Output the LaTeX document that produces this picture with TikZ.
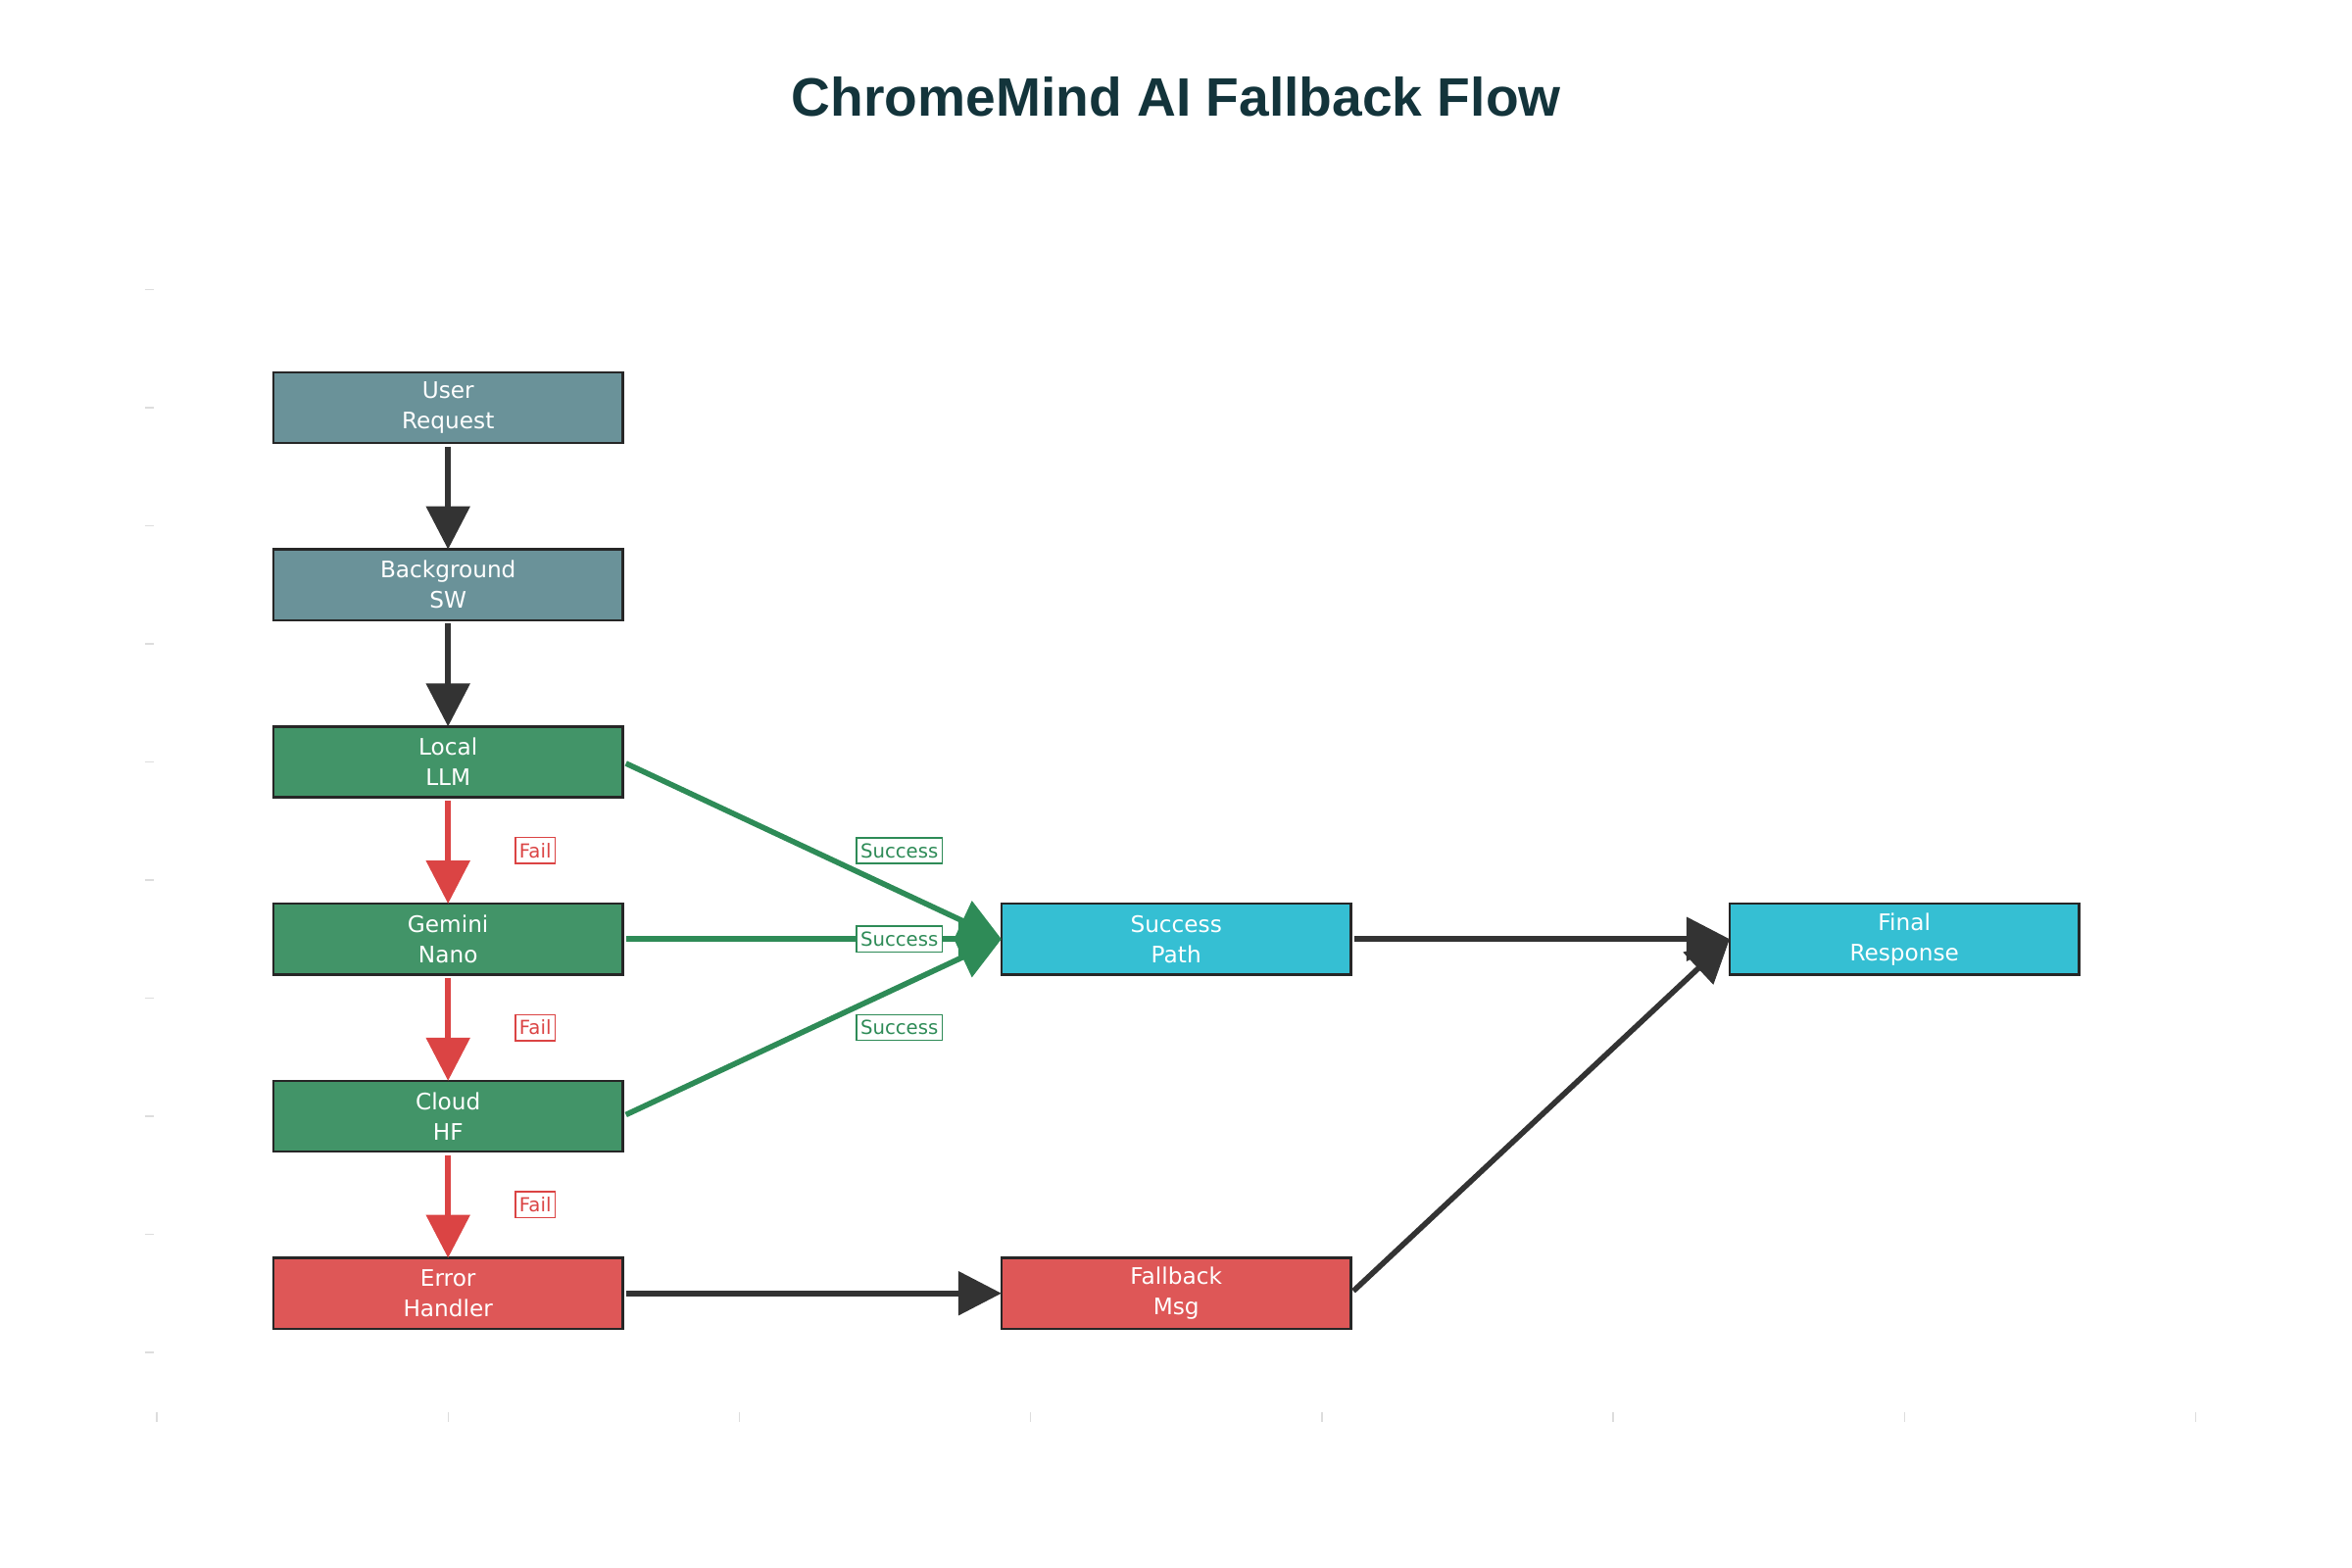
\documentclass[tikz,border=0pt]{standalone}
\usepackage{fontspec}
\setmainfont{DejaVu Sans}
\newfontfamily\titlefont{Liberation Sans}
\usetikzlibrary{arrows.meta}

\definecolor{slate}{RGB}{106,146,153}
\definecolor{leaf}{RGB}{66,148,104}
\definecolor{coral}{RGB}{222,87,87}
\definecolor{sky}{RGB}{53,191,211}
\definecolor{ink}{RGB}{19,52,59}
\definecolor{okline}{RGB}{46,139,87}
\definecolor{failline}{RGB}{219,68,68}
\definecolor{darkline}{RGB}{51,51,51}
\definecolor{tickgray}{RGB}{221,221,221}

\begin{document}
\begin{tikzpicture}[x=2.972cm, y=1.205cm,
    box/.style={draw=black!85, line width=0.7pt, minimum width=3.566cm, minimum height=0.723cm,
        inner sep=0pt, outer sep=0pt, text=white, align=center, font=\fontsize{6.6}{8.8}\selectfont},
    flow/.style={line width=1.6pt, -{Triangle[length=12.5pt,width=12.5pt]}, shorten <=1pt},
    tag/.style={fill=white, line width=0.45pt, inner xsep=1.2pt, inner ysep=1.6pt,
        font=\fontsize{5.6}{6}\selectfont, xshift=0.89cm}]
    \useasboundingbox (-0.5384,-1.8257) rectangle (7.5370,11.4523);

    % title
    \node[anchor=base, text=ink, font=\titlefont\bfseries\fontsize{15.7}{19}\selectfont] (title) at (3.5,10.47) {ChromeMind AI Fallback Flow};

    % faint axis ticks
    \foreach \i in {0,...,7}
        \draw[tickgray, line width=0.4pt] (\i,-0.51) -- (\i,-0.59);
    \foreach \j in {0,...,9}
        \draw[tickgray, line width=0.4pt] (-0.042,\j) -- (-0.011,\j);

    % boxes
    \node[box, fill=slate] (user) at (1,8) {User\\Request};
    \node[box, fill=slate] (bg) at (1,6.5) {Background\\SW};
    \node[box, fill=leaf] (local) at (1,5) {Local\\LLM};
    \node[box, fill=leaf] (gemini) at (1,3.5) {Gemini\\Nano};
    \node[box, fill=leaf] (cloud) at (1,2) {Cloud\\HF};
    \node[box, fill=coral] (error) at (1,0.5) {Error\\Handler};
    \node[box, fill=sky] (success) at (3.5,3.5) {Success\\Path};
    \node[box, fill=coral] (fallback) at (3.5,0.5) {Fallback\\Msg};
    \node[box, fill=sky] (final) at (6,3.5) {Final\\Response};

    % main chain
    \draw[flow, darkline] (user.south) -- (bg.north);
    \draw[flow, darkline] (bg.south) -- (local.north);

    % fail path
    \draw[flow, failline] (local.south) -- node[tag, draw=failline, text=failline] {Fail} (gemini.north);
    \draw[flow, failline] (gemini.south) -- node[tag, draw=failline, text=failline] {Fail} (cloud.north);
    \draw[flow, failline] (cloud.south) -- node[tag, draw=failline, text=failline] {Fail} (error.north);

    % success path
    \draw[flow, okline] (local.east) -- node[tag, draw=okline, text=okline] {Success} (success.west);
    \draw[flow, okline] (gemini.east) -- node[tag, draw=okline, text=okline] {Success} (success.west);
    \draw[flow, okline] (cloud.east) -- node[tag, draw=okline, text=okline] {Success} (success.west);

    % to the end
    \draw[flow, darkline] (error.east) -- (fallback.west);
    \draw[flow, darkline] (success.east) -- (final.west);
    \draw[flow, darkline] (fallback.east) -- (final.west);
\end{tikzpicture}
\end{document}
